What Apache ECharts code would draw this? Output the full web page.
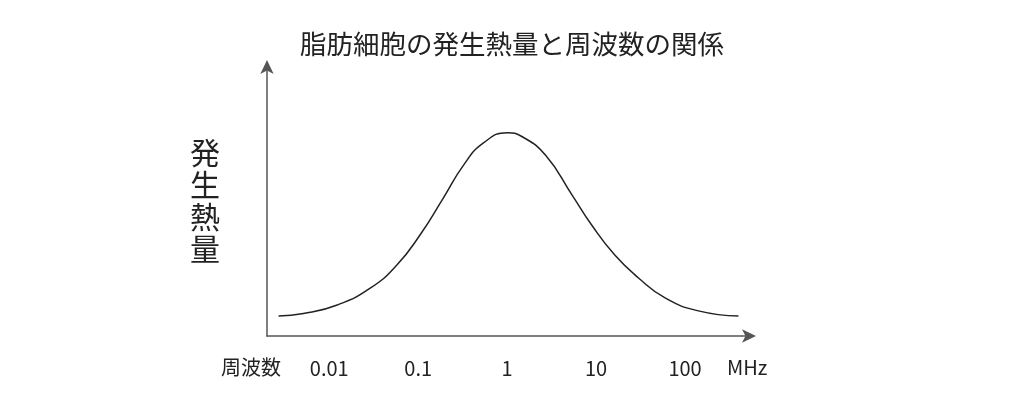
<!DOCTYPE html>
<html>
<head>
<meta charset="utf-8">
<script src="https://cdn.jsdelivr.net/npm/echarts@6/dist/echarts.min.js"></script>
<style>
html,body{margin:0;padding:0;background:#fff;}
#chart{width:1024px;height:410px;}
</style>
</head>
<body>
<div id="chart"></div>
<script>
// log10 of frequency (MHz)
var logFreq = [-2.57,-2.29,-1.91,-1.54,-1.24,-0.98,-0.72,-0.49,-0.27,0,0.17,0.43,0.73,0.95,1.21,1.48,1.78,2.15,2.60];
// relative heat generation
var heat = [7.4,8.3,11.5,17.7,26.3,37.4,51.0,63.3,71.4,75.3,73.8,67.0,52.2,41.1,30.0,21.4,14.0,9.3,7.4];
var tickValues = [-2,-1,0,1,2];
var tickLabels = ['0.01','0.1','1','10','100'];

var seriesData = logFreq.map(function(x,i){return [x, heat[i]];});
var font = '"Noto Sans CJK JP", "Noto Sans", sans-serif';

var chart = echarts.init(document.getElementById('chart'));
chart.setOption({
  backgroundColor:'#fff',
  animation:false,
  title:{
    text:'脂肪細胞の発生熱量と周波数の関係',
    left:'center', top:26,
    textStyle:{fontFamily:font, fontSize:26.5, fontWeight:'normal', color:'#222'}
  },
  grid:{left:267, right:274, top:66, bottom:74},
  xAxis:{
    type:'value', min:-2.70, max:2.73,
    axisLine:{show:true, onZero:false, lineStyle:{color:'#555', width:1.5}, symbol:['none','arrow'], symbolSize:[10,14], symbolOffset:[0,6]},
    axisTick:{show:false},
    splitLine:{show:false},
    axisLabel:{
      customValues:tickValues,
      margin:22,
      fontFamily:font, fontSize:20, color:'#222',
      formatter:function(v){var i=tickValues.indexOf(Math.round(v)); return i>=0?tickLabels[i]:'';}
    }
  },
  yAxis:{
    type:'value', min:0, max:100,
    name:'発\n生\n熱\n量',
    nameLocation:'middle', nameRotate:0, nameGap:47,
    nameTextStyle:{fontFamily:font, fontSize:30, lineHeight:32, color:'#222', padding:[0,0,70,0]},
    axisLine:{show:true, onZero:false, lineStyle:{color:'#555', width:1.5}, symbol:['none','arrow'], symbolSize:[10,14], symbolOffset:[0,6]},
    axisTick:{show:false},
    splitLine:{show:false},
    axisLabel:{show:false}
  },
  graphic:[
    {type:'text', left:221, top:357, style:{text:'周波数', font:'20px '+font, fill:'#222'}},
    {type:'text', left:727, top:357, style:{text:'MHz', font:'20px '+font, fill:'#222'}}
  ],
  series:[{
    type:'line', data:seriesData, smooth:true, showSymbol:false,
    lineStyle:{color:'#222', width:1.5}
  }]
});
</script>
</body>
</html>
